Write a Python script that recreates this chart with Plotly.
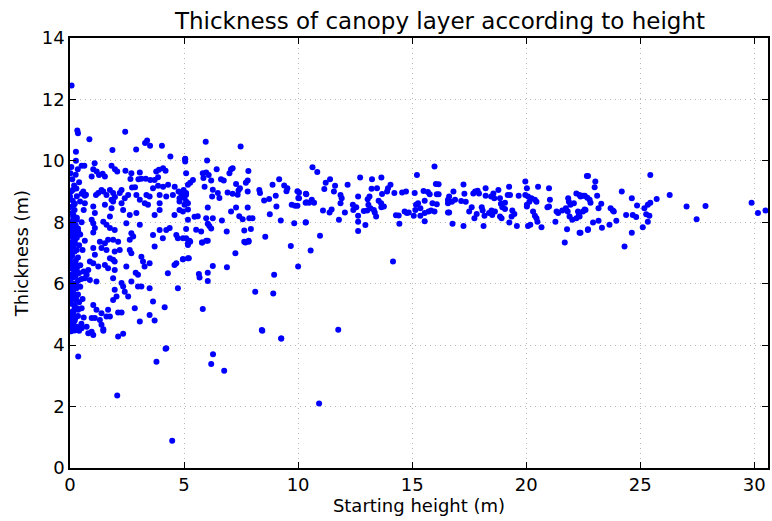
import plotly.graph_objects as go

# (starting height m, thickness m) pairs, grouped by region
ground_column = [
    (0.05,4.45),(0.1,4.5),(0.2,4.48),(0.3,4.5),(0.4,4.47),(0.02,4.6),(0.15,4.7),(0.08,4.85),(0.25,4.9),(0.35,4.95),
    (0.05,5.0),(0.12,5.1),(0.3,5.2),(0.18,5.3),(0.05,5.35),(0.4,5.4),(0.1,5.5),(0.25,5.55),(0.02,5.6),(0.35,5.65),
    (0.15,5.7),(0.05,5.8),(0.28,5.85),(0.45,5.9),(0.1,5.95),(0.2,6.0),(0.02,6.05),(0.35,6.1),(0.5,6.15),(0.12,6.2),
    (0.25,6.25),(0.05,6.3),(0.4,6.35),(0.18,6.4),(0.3,6.5),(0.08,6.55),(0.45,6.6),(0.15,6.65),(0.02,6.7),(0.25,6.75),
    (0.35,6.85),(0.1,6.9),(0.05,7.0),(0.2,7.05),(0.3,7.1),(0.12,7.15),(0.02,7.2),(0.4,7.25),(0.22,7.3),(0.08,7.35),
    (0.15,7.45),(0.3,7.5),(0.05,7.55),(0.45,7.6),(0.1,7.65),(0.2,7.7),(0.02,7.75),(0.35,7.8),(0.12,7.85),(0.25,7.9),
    (0.05,7.95),(0.15,8.05),(0.3,8.15),(0.08,8.3),(0.2,8.4),(0.02,8.5),(0.12,8.7),(0.3,8.85),(0.05,9.0),(0.18,9.2),
    (0.1,9.4),(0.02,9.6),(0.25,9.55),(0.4,9.3),(0.06,9.8),(0.3,4.6),(0.5,4.7),(0.6,4.9),(0.55,5.5),(0.6,6.4),
    (0.55,7.1),(0.65,7.4),(0.6,8.4),(0.7,8.9),(0.36,3.63),
    (0.0,4.55),(0.07,4.75),(0.14,5.05),(0.21,5.25),(0.28,5.45),(0.0,5.75),(0.07,6.0),(0.14,6.2),(0.21,6.45),(0.28,6.6),
    (0.0,6.8),(0.07,7.0),(0.14,7.2),(0.21,7.4),(0.28,7.6),(0.0,7.8),(0.07,8.0),(0.14,8.2),(0.21,5.15),(0.28,5.95),
    (0.0,6.9),(0.07,7.65),(0.14,8.1),(0.21,4.8),(0.28,5.6),(0.0,6.5),(0.07,7.3),(0.14,7.95),(0.21,8.6),(0.28,9.1),
]

low_upper = [
    (0.07,12.45),(0.32,10.99),(0.35,10.9),(0.85,10.7),(2.42,10.95),(0.26,10.3),(1.86,10.35),(2.9,10.37),
    (3.29,10.58),(3.38,10.66),(3.51,10.49),(4.03,10.49),(4.4,10.14),(5.05,10.07),(1.08,9.92),(0.26,10.0),
    (0.51,9.84),(0.63,9.84),(0.34,9.73),(1.02,9.73),(1.17,9.65),(0.95,9.49),(1.27,9.54),(1.43,9.58),(1.53,9.49),
    (1.82,9.84),(1.97,9.73),(2.07,9.65),(2.43,9.68),(2.69,9.6),(2.65,9.41),(3.06,9.62),(3.0,9.4),(3.13,9.42),
    (2.85,9.14),(2.72,9.13),(3.32,9.42),(3.52,9.38),(3.78,9.65),(3.9,9.71),(4.08,9.76),(4.19,9.68),(3.71,9.38),
    (3.86,9.47),(3.64,9.11),(3.86,9.19),(4.08,9.16),(4.3,9.22),(4.59,9.16),(4.76,9.0),(4.98,9.05),(5.09,8.95),
    (0.12,9.05),(0.0,8.84),(0.58,9.0),(0.51,8.93),(0.65,8.86),(1.14,8.89),(1.24,8.95),(1.38,9.05),(1.46,9.0),
    (1.6,8.89),(1.75,9.05),(1.89,8.95),(1.82,8.73),(1.97,8.82),(2.18,8.95),(2.26,9.05),(2.4,8.78),(2.55,8.89),
    (2.91,8.89),(3.06,8.73),(3.28,8.62),(3.35,8.89),(3.49,8.84),(3.93,8.89),(4.22,8.84),(4.51,8.89),(4.8,8.78),
    (5.02,8.57),
]

low_middle = [
    (0.17,8.57),(0.44,8.68),(0.65,8.62),(1.02,8.51),(1.09,8.3),(0.95,8.08),(0.15,8.24),(0.29,8.08),(1.53,8.57),
    (1.89,8.68),(1.82,8.46),(1.75,8.19),(2.26,8.62),(2.33,8.4),(2.62,8.24),(2.91,8.3),(3.42,8.57),(3.93,8.62),
    (3.93,8.4),(4.58,8.24),(4.95,8.35),(5.17,8.62),(5.17,8.08),(4.8,8.68),(3.71,8.24),(0.15,7.92),(0.22,7.81),
    (0.36,7.7),(0.51,8.0),(1.02,7.97),(1.09,7.81),(1.02,7.67),(1.46,8.02),(1.6,7.92),(1.75,7.81),(1.96,7.75),
    (2.47,7.97),(2.69,7.64),(2.77,7.54),(2.62,7.43),(3.06,7.92),(3.93,7.75),(4.22,7.75),(4.37,7.81),(4.07,7.48),
    (4.66,7.59),(4.73,7.48),(5.09,7.48),(5.17,7.32),(3.64,7.59),(1.31,7.37),(1.53,7.32),(1.67,7.43),(1.89,7.43),
    (2.11,7.37),(1.38,7.16),(1.6,7.1),(1.96,7.05),(2.18,7.1),(2.62,7.1),(2.69,6.99),(1.02,7.16),(1.09,6.94),
    (0.87,6.72),(1.02,6.67),(0.8,6.45),(1.24,6.56),(1.53,6.61),(1.67,6.5),(1.75,6.83),(1.89,6.78),(1.96,6.72),
    (3.13,6.88),(3.2,6.72),(3.27,6.56),(3.49,6.67),(3.71,7.21),(2.98,6.29),(2.88,6.36),(2.47,6.56),(4.29,6.34),
    (4.58,6.61),(4.66,6.67),(4.95,6.8),(5.17,6.83),(4.73,5.85),(0.65,6.18),(0.87,6.12),(0.73,6.29),(1.16,6.07),
    (1.89,6.18),(1.96,6.45),(2.26,6.02),(2.33,5.91),(2.69,6.07),(2.98,5.91),(3.13,5.91),(3.49,5.85),(2.4,5.74),
    (2.55,5.58),(1.96,5.8),(2.04,5.58),(1.89,5.47),(1.67,5.15),(1.75,4.93),(1.6,4.93),(1.38,5.04),(1.16,5.15),
    (1.02,5.31),(1.09,4.88),(1.31,4.82),(0.95,4.88),(0.51,5.2),(0.36,5.15),(2.11,5.06),(2.26,5.06),(2.84,5.2),
    (3.49,4.98),(3.71,4.8),(3.06,4.77),(3.64,5.42),(4.15,5.23),(1.38,4.66),(1.46,4.52),(2.11,4.28),(2.33,4.37),
    (0.73,4.6),(0.95,4.44),(1.02,4.33),(0.51,4.55),(0.29,4.55),(0.22,4.6),(4.22,3.9),
]

outliers_low = [
    (2.07,2.36),(0.8,4.39),(1.46,4.47),(3.79,3.46),(4.19,3.88),(4.48,0.89),(6.19,3.39),(6.27,3.7),(6.76,3.17),
    (8.43,4.47),(9.26,4.22),(10.92,2.1),(11.76,4.5),
]

mid_left = [
    (5.95,10.62),(7.48,10.47),(5.05,10.05),(5.05,9.98),(6.01,10.01),(5.09,9.6),(6.43,9.73),(7.06,9.73),(7.13,9.76),
    (7.82,9.67),(5.82,9.6),(5.97,9.62),(6.08,9.54),(6.99,9.6),(5.85,9.44),(6.19,9.36),(6.62,9.4),(6.74,9.36),
    (5.39,9.38),(5.27,9.29),(5.17,9.22),(7.28,9.25),(7.79,9.36),(7.71,9.29),(5.9,9.16),(6.26,9.06),(7.45,9.11),
    (6.48,8.95),(6.91,8.97),(7.13,8.93),(7.35,8.9),(7.39,9.04),(7.79,9.0),(4.88,8.93),(5.09,8.9),(5.02,8.79),
    (5.09,8.68),(6.23,8.84),(6.55,8.79),(8.3,9.05),(8.33,8.95),(8.51,8.71),(8.73,8.76),(8.88,9.22),(9.17,9.4),
    (9.02,8.86),(9.39,9.2),(9.53,9.11),(9.49,9.01),(9.97,9.01),(10.01,8.79),(10.34,8.93),(10.37,8.65),(6.04,8.48),
    (7.06,8.35),(7.28,8.48),(7.79,8.48),(4.8,8.4),(5.17,8.42),(5.46,8.18),(5.6,8.2),(5.97,8.13),(6.26,8.13),
    (7.42,8.2),(7.57,8.1),(7.86,8.13),(8.0,8.13),(8.76,8.26),(9.05,8.51),(9.24,8.06),(9.72,8.57),(9.87,8.54),
    (9.97,8.54),(9.83,7.97),(10.34,8.0),(6.66,8.06),(6.04,7.95),(6.19,7.8),(6.11,7.88),(5.09,7.78),(5.53,7.76),
    (5.75,7.7),(6.87,7.7),(7.64,7.73),(7.93,7.78),(4.95,7.48),(5.24,7.4),(5.97,7.4),(5.79,7.34),(7.64,7.37),
    (7.83,7.4),(8.56,7.53),(9.68,7.23),
]

mid_low = [
    (4.95,6.8),(5.21,6.83),(5.17,7.26),(5.27,7.37),(5.79,7.34),(6.04,7.4),(7.69,7.34),(7.83,7.37),(7.25,6.99),
    (6.26,6.58),(6.04,6.36),(5.65,6.32),(5.68,6.2),(6.04,6.09),(6.88,6.54),(8.95,6.29),(10.0,6.56),(8.12,5.74),
    (8.91,5.68),(5.82,5.18),(8.41,4.49),(9.26,4.22),(10.55,7.08),
]

mid_right = [
    (10.63,9.79),(10.84,9.64),(11.21,9.29),(11.4,9.4),(11.15,9.08),(11.62,9.19),(11.57,9.0),(12.17,9.22),
    (11.86,8.89),(11.91,8.78),(11.86,8.62),(12.72,9.46),(13.24,9.4),(13.65,9.46),(13.46,9.11),(13.22,9.09),
    (14.05,9.22),(13.94,9.11),(13.9,9.0),(13.68,8.92),(13.13,8.84),(13.05,8.75),(12.63,8.84),(13.53,8.7),
    (13.64,8.62),(13.76,8.51),(13.65,8.49),(12.4,8.57),(12.55,8.49),(12.42,8.4),(13.08,8.57),(13.17,8.46),
    (13.32,8.4),(12.88,8.37),(13.03,8.38),(13.36,8.32),(13.42,8.19),(12.63,8.21),(12.05,8.32),(11.47,8.42),
    (11.38,8.32),(11.09,8.38),(10.04,8.97),(10.04,8.78),(10.36,8.91),(10.33,8.64),(10.48,8.64),(10.6,8.73),
    (10.7,8.64),(10.33,7.99),(11.79,8.08),(12.63,8.02),(12.95,7.91),(12.63,7.72),(10.96,7.56),(14.16,6.72),
    (14.22,8.95),(14.56,8.97),(14.73,9.0),(15.11,8.95),(15.21,9.54),(15.5,9.02),(15.69,8.99),(15.77,8.91),
    (15.55,8.7),(15.17,8.57),(15.26,8.62),(15.36,8.46),(15.14,8.4),(15.07,8.21),(15.36,8.21),(15.55,8.3),
    (15.55,8.03),(15.72,8.35),(15.83,8.38),(15.98,8.35),(16.08,8.59),(15.89,8.62),(15.98,9.82),(16.04,9.25),
    (16.08,8.91),(14.67,8.35),(14.77,8.3),(14.85,8.32),(14.29,8.23),(14.41,8.22),(14.44,7.95),(16.57,8.73),
    (16.57,8.32),(16.57,8.62),
]

high_left = [
    (16.16,9.24),(16.16,8.91),(16.62,8.84),(16.81,9.0),(16.88,8.73),(16.59,8.67),(16.74,8.67),(16.62,8.32),
    (16.77,7.95),(17.25,7.88),(17.25,9.23),(17.29,8.93),(17.15,8.69),(17.35,8.67),(17.5,8.35),(17.61,8.49),
    (17.68,8.94),(17.76,9.0),(17.87,9.03),(17.93,8.94),(17.73,8.13),(17.83,8.27),(18.05,8.49),(18.09,8.38),
    (18.17,8.21),(18.13,7.88),(18.22,9.11),(18.22,8.86),(18.46,8.84),(18.56,8.94),(18.6,8.78),(18.37,8.3),
    (18.48,8.38),(18.51,8.24),(18.63,8.35),(18.78,9.05),(18.85,8.78),(18.89,8.6),(18.95,8.49),(19.07,8.64),
    (19.07,8.43),(18.85,8.19),(18.92,8.13),(19.39,8.38),(19.48,8.27),(19.25,9.16),(19.19,8.89),(19.29,8.89),
    (19.36,8.19),(19.26,7.99),(19.59,7.88),(19.67,8.86),(19.96,9.33),(20.03,9.11),(19.96,8.89),(20.08,8.84),
    (20.14,8.67),(20.03,8.57),(20.03,8.51),(20.23,8.78),(20.38,8.73),(20.45,8.67),(20.3,8.35),(20.38,8.21),
    (20.45,8.13),(20.52,9.16),(20.49,8.02),(20.08,7.88),(20.18,7.92),(20.67,7.84),(21.0,9.11),(21.04,8.73),
    (21.0,8.51),(20.93,8.49),(21.33,8.35),(21.28,8.02),(21.4,8.3),(21.58,8.38),(21.79,7.77),(21.69,7.34),
    (21.84,8.78),(21.87,8.67),(21.94,8.57),(22.09,8.62),(22.2,8.94),(22.38,8.84),(22.31,8.24),(22.2,8.13),
    (22.02,8.08),(21.9,8.19),(22.57,8.86),(22.6,8.4),(22.7,7.75),(22.66,9.51),(22.38,7.66),(21.74,8.46),
    (21.82,8.35),
]

high_right = [
    (22.71,9.51),(23.03,9.33),(23.0,9.14),(22.34,8.89),(22.49,8.86),(22.68,8.8),(22.78,8.73),(22.82,8.64),
    (23.11,8.86),(23.29,8.6),(23.17,8.46),(22.56,8.42),(22.49,8.35),(22.27,8.35),(22.34,8.19),(23.7,8.46),
    (23.8,8.38),(23.84,8.35),(23.95,8.05),(23.65,7.92),(23.32,7.82),(23.17,8.05),(22.93,7.99),(22.71,7.77),
    (22.34,7.66),(24.19,9.0),(24.31,7.21),(24.38,8.24),(24.63,8.78),(24.67,8.24),(24.63,7.66),(24.82,8.17),
    (24.86,8.55),(25.11,7.84),(25.18,8.46),(25.33,8.02),(25.26,8.26),(25.4,8.21),(25.33,8.57),(25.44,8.64),
    (25.44,9.54),(25.72,8.76),(26.29,8.89),(27.03,8.51),(27.47,8.1),(27.86,8.53),(29.88,8.64),(30.16,8.3),
    (30.49,8.38),
]

groups = [ground_column, low_upper, low_middle, outliers_low, mid_left, mid_low, mid_right, high_left, high_right]
starting_height = [p[0] for g in groups for p in g]
thickness = [p[1] for g in groups for p in g]

x_ticks = [0, 5, 10, 15, 20, 25, 30]
y_ticks = [0, 2, 4, 6, 8, 10, 12, 14]

FONT = "DejaVu Sans"

fig = go.Figure(
    go.Scatter(
        x=starting_height,
        y=thickness,
        mode="markers",
        marker=dict(color="#0000ff", size=6, line=dict(width=0)),
        showlegend=False,
    )
)

axis_common = dict(
    showline=True,
    linecolor="black",
    linewidth=1.5,
    mirror="ticks",
    ticks="inside",
    ticklen=6,
    tickwidth=1,
    tickcolor="black",
    showgrid=True,
    gridcolor="#b8b8b8",
    griddash="1px,4px",
    gridwidth=1,
    zeroline=False,
    tickfont=dict(family=FONT, size=18, color="black"),
)

fig.update_layout(
    width=772,
    height=521,
    margin=dict(l=70, r=2, t=38, b=53),
    paper_bgcolor="white",
    plot_bgcolor="white",
    font=dict(family=FONT, color="black"),
    title=dict(
        text="Thickness of canopy layer according to height",
        x=440 / 772, xref="container", xanchor="center",
        y=1 - 21 / 521, yref="container", yanchor="middle",
        font=dict(family=FONT, size=23, color="black"),
    ),
    xaxis=dict(
        range=[0, 30.6],
        tickvals=x_ticks,
        title=dict(text="Starting height (m)", font=dict(family=FONT, size=18), standoff=4),
        **axis_common,
    ),
    yaxis=dict(
        range=[0, 14],
        tickvals=y_ticks,
        title=dict(text="Thickness (m)", font=dict(family=FONT, size=18), standoff=8),
        **axis_common,
    ),
)

fig.write_html("out.html")
